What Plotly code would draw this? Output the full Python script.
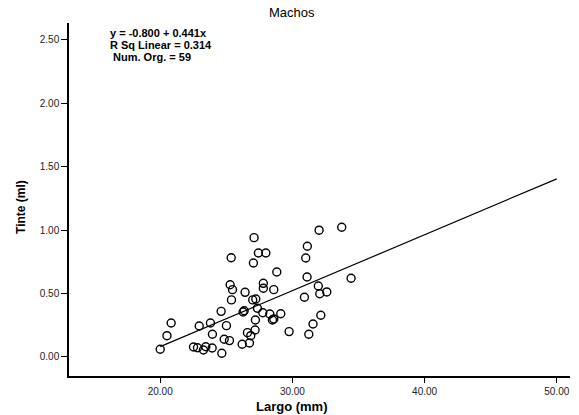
import plotly.graph_objects as go

largo = [20.00, 20.51, 20.83, 22.52, 22.82, 23.27, 23.45, 23.93, 24.66, 22.95,
         23.80, 23.95, 24.61, 25.01, 24.84, 25.24, 25.37, 25.29, 25.47, 25.39,
         26.27, 26.35, 26.42, 26.20, 26.75, 26.60, 26.85, 27.18, 27.20, 27.00,
         27.23, 27.35, 27.10, 27.43, 27.99, 27.05, 27.80, 27.80, 27.76, 28.29,
         28.59, 28.82, 28.49, 28.59, 29.12, 29.75, 30.91, 31.11, 31.01, 31.13,
         31.24, 31.56, 32.15, 31.96, 32.07, 32.60, 32.02, 33.73, 34.44]
tinte = [0.061, 0.168, 0.268, 0.079, 0.073, 0.055, 0.081, 0.071, 0.029, 0.244,
         0.268, 0.179, 0.360, 0.247, 0.140, 0.129, 0.783, 0.570, 0.531, 0.450,
         0.355, 0.365, 0.510, 0.100, 0.110, 0.192, 0.168, 0.213, 0.292, 0.450,
         0.457, 0.384, 0.941, 0.820, 0.820, 0.741, 0.581, 0.542, 0.349, 0.339,
         0.531, 0.670, 0.292, 0.300, 0.341, 0.200, 0.471, 0.631, 0.781, 0.873,
         0.179, 0.260, 0.329, 0.560, 0.499, 0.513, 1.000, 1.023, 0.621]

fit_intercept = -0.800
fit_slope = 0.0441
fit_x_end = 50.0

x_ticks = [20, 30, 40, 50]
x_ticklabels = ["20.00", "30.00", "40.00", "50.00"]
y_ticks = [0.0, 0.5, 1.0, 1.5, 2.0, 2.5]
y_ticklabels = ["0.00", "0.50", "1.00", "1.50", "2.00", "2.50"]

info_lines = ["y = -0.800 + 0.441x", "R Sq Linear = 0.314", "&nbsp;Num. Org. = 59"]

FONT = "Liberation Sans, Arial, sans-serif"
X_MIN, X_MAX = 13.1, 51.0

fx = [min(largo), fit_x_end]
fy = [fit_intercept + fit_slope * v for v in fx]

fig = go.Figure()
fig.add_trace(go.Scatter(x=fx, y=fy, mode="lines",
                         line=dict(color="black", width=1.2),
                         showlegend=False, hoverinfo="skip"))
fig.add_trace(go.Scatter(x=largo, y=tinte, mode="markers",
                         marker=dict(symbol="circle-open", size=8,
                                     color="black", line=dict(width=1.4, color="black")),
                         showlegend=False))

fig.update_layout(
    width=579, height=415,
    margin=dict(l=69, r=9, t=23, b=39),
    paper_bgcolor="white", plot_bgcolor="white",
    font=dict(family=FONT, color="black"),
    xaxis=dict(range=[X_MIN, X_MAX], tickvals=x_ticks, ticktext=x_ticklabels,
               showgrid=False, zeroline=False, showline=True, linecolor="black",
               linewidth=1.5, ticks="outside", ticklen=5, tickcolor="black",
               tickfont=dict(size=10, color="#222222", family=FONT)),
    yaxis=dict(range=[-0.15, 2.634], tickvals=y_ticks, ticktext=y_ticklabels,
               showgrid=False, zeroline=False, showline=True, linecolor="black",
               linewidth=1.5, ticks="outside", ticklen=6, tickcolor="black",
               tickfont=dict(size=10, color="#222222", family=FONT)),
)

annotations = [
    dict(text="Machos", x=0.445, y=1.03, xref="paper", yref="paper",
         xanchor="center", yanchor="middle", showarrow=False,
         font=dict(size=13, family=FONT, color="black")),
    dict(text="<b>Largo (mm)</b>", x=0.445, y=-0.087, xref="paper", yref="paper",
         xanchor="center", yanchor="middle", showarrow=False,
         font=dict(size=13, family=FONT, color="black")),
    dict(text="<b>Tinte (ml)</b>", x=-0.097, y=0.48, xref="paper", yref="paper",
         xanchor="center", yanchor="middle", showarrow=False, textangle=-90,
         font=dict(size=12, family=FONT, color="black")),
]
info_x = X_MIN + (108 - 69) / 13.23
for i, line in enumerate(info_lines):
    annotations.append(dict(text="<b>" + line + "</b>",
                            x=info_x, y=2.555 - i * 0.0946, xref="x", yref="y",
                            xanchor="left", yanchor="middle", showarrow=False,
                            font=dict(size=11, family=FONT, color="black")))
fig.update_layout(annotations=annotations)

fig.write_html("out.html")
